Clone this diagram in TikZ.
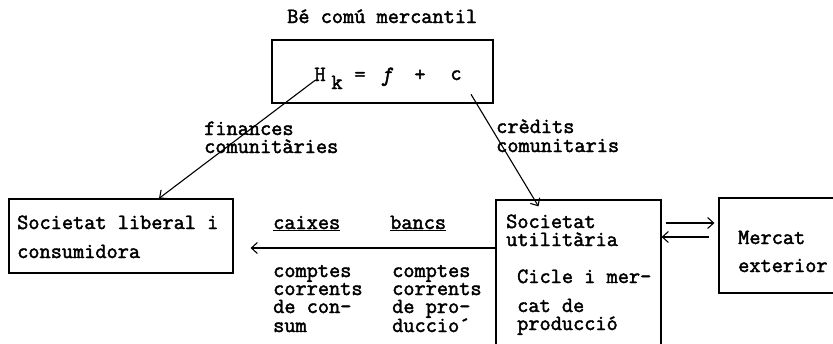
\documentclass[tikz,border=0pt]{standalone}
\usepackage{fontspec}
\setmainfont{Latin Modern Mono}[FakeBold=2]
\usetikzlibrary{arrows.meta}
\begin{document}
\begin{tikzpicture}[x=1pt,y=-1pt,
  txt/.style={font=\fontsize{21.7}{18}\selectfont, inner sep=0pt, anchor=base west, text height=10pt, text depth=3pt},
  eqtxt/.style={font=\fontsize{21.7}{18}\selectfont, inner sep=0pt, anchor=base},
  box/.style={draw, line width=1.2pt, inner sep=0pt},
  arr/.style={line width=1.1pt, -{Straight Barb[length=6pt,width=11pt,line width=1.1pt]}}]
\useasboundingbox (0,0) rectangle (833,343);
\fill[white] (0,0) rectangle (833,343);

% boxes
\node[box, minimum width=221pt, minimum height=63pt] (top) at (382.5,71.5) {};
\node[box, minimum width=224pt, minimum height=74pt] (lib) at (121,236) {};
\node[box, minimum width=165pt, minimum height=160pt] (util) at (578.5,280) {};
\node[box, minimum width=131pt, minimum height=95pt] (mer) at (784.5,245.5) {};

% title and equation
\node[txt] (title) at (287,23) {Bé comú mercantil};
\node[eqtxt] (H) at (320,81) {H};
\node[eqtxt] (k) at (337,89) {k};
\node[eqtxt] (eq) at (360,81) {=};
\node[eqtxt] (fn) at (387,81) {\textit{f}};
\node[eqtxt] (plus) at (420,81) {+};
\node[eqtxt] (c) at (456,80) {c};

% labels on diagonal arrows
\node[txt] (fin1) at (204,135) {finances};
\node[txt] (fin2) at (204,153) {comunitàries};
\node[txt] (cre1) at (496,133) {crèdits};
\node[txt] (cre2) at (496,152) {comunitaris};

% left box text
\node[txt] (lib1) at (17,229) {Societat liberal i};
\node[txt] (lib2) at (17,258) {consumidora};

% middle labels
\node[txt] (caixes) at (273,229) {\underline{caixes}};
\node[txt] (bancs) at (390,229) {\underline{bancs}};
\node[txt] (ca1) at (273,277) {comptes};
\node[txt] (ca2) at (273,295) {corrents};
\node[txt] (ca3) at (273,313) {de con-};
\node[txt] (ca4) at (273,332) {sum};
\node[txt] (cb1) at (392,277) {comptes};
\node[txt] (cb2) at (392,295) {corrents};
\node[txt] (cb3) at (392,313) {de pro-};
\node[txt] (cb4) at (392,332) {duccio\'{}};

% util box text
\node[txt] (u1) at (506,228) {Societat};
\node[txt] (u2) at (506,246) {utilitària};
\node[txt] (u3) at (517,283) {Cicle i mer-};
\node[txt] (u4) at (517,312) {cat de};
\node[txt] (u5) at (517,330) {producció};

% mercat text
\node[txt] (m1) at (738,244) {Mercat};
\node[txt] (m2) at (738,272) {exterior};

% connectors
\draw[arr] ([xshift=-5pt,yshift=-6pt]H.center) -- ([xshift=38pt]lib.north);
\draw[arr] ([xshift=15pt,yshift=-19pt]c.center) -- ([xshift=-40pt,yshift=-7pt]util.north);
\draw[arr] ([yshift=32pt]util.west) -- ([xshift=17pt,yshift=-12pt]lib.east);
\draw[arr] ([xshift=4pt,yshift=57pt]util.east) -- ([xshift=-4pt,yshift=22.5pt]mer.west);
\draw[arr] ([xshift=-9pt,yshift=8.5pt]mer.west) -- ([yshift=43pt]util.east);
\end{tikzpicture}
\end{document}
